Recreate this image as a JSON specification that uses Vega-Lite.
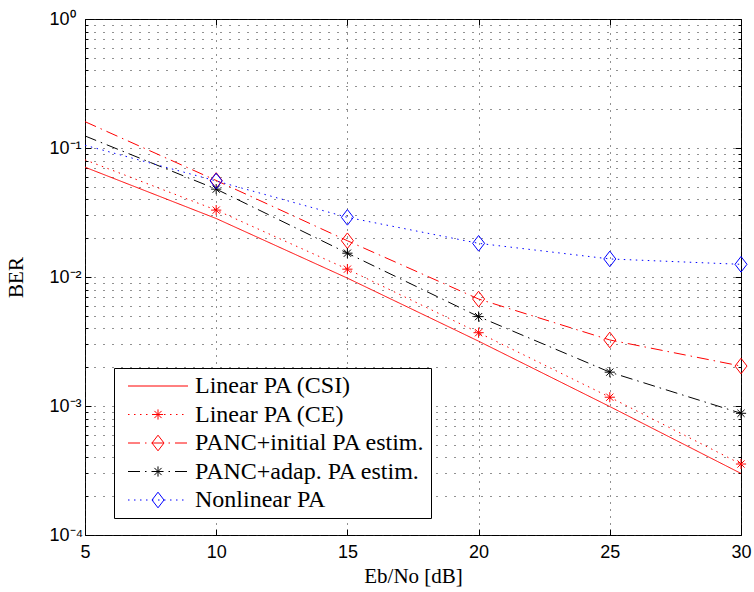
{
  "$schema": "https://vega.github.io/schema/vega-lite/v6.json",
  "width": 656,
  "height": 516,
  "autosize": {"type": "none"},
  "padding": {"left": 85, "top": 19, "right": 13, "bottom": 57},
  "background": "white",
  "config": {
    "view": {"stroke": "black", "strokeWidth": 1},
    "axis": {"domain": false, "tickColor": "black", "labelColor": "black", "titleColor": "black"}
  },
  "datasets": {
    "curves": [
      {"series": "Linear PA (CSI)", "ebno": 5, "ber": 0.071},
      {"series": "Linear PA (CSI)", "ebno": 10, "ber": 0.0284},
      {"series": "Linear PA (CSI)", "ebno": 15, "ber": 0.0098},
      {"series": "Linear PA (CSI)", "ebno": 20, "ber": 0.00318},
      {"series": "Linear PA (CSI)", "ebno": 25, "ber": 0.00099},
      {"series": "Linear PA (CSI)", "ebno": 30, "ber": 0.0003},
      {"series": "Linear PA (CE)", "ebno": 5, "ber": 0.081},
      {"series": "Linear PA (CE)", "ebno": 10, "ber": 0.033},
      {"series": "Linear PA (CE)", "ebno": 15, "ber": 0.0115},
      {"series": "Linear PA (CE)", "ebno": 20, "ber": 0.0037},
      {"series": "Linear PA (CE)", "ebno": 25, "ber": 0.00117},
      {"series": "Linear PA (CE)", "ebno": 30, "ber": 0.000355},
      {"series": "PANC+initial PA estim.", "ebno": 5, "ber": 0.16},
      {"series": "PANC+initial PA estim.", "ebno": 10, "ber": 0.056},
      {"series": "PANC+initial PA estim.", "ebno": 15, "ber": 0.0191},
      {"series": "PANC+initial PA estim.", "ebno": 20, "ber": 0.00675},
      {"series": "PANC+initial PA estim.", "ebno": 25, "ber": 0.00325},
      {"series": "PANC+initial PA estim.", "ebno": 30, "ber": 0.00204},
      {"series": "PANC+adap. PA estim.", "ebno": 5, "ber": 0.124},
      {"series": "PANC+adap. PA estim.", "ebno": 10, "ber": 0.048},
      {"series": "PANC+adap. PA estim.", "ebno": 15, "ber": 0.0153},
      {"series": "PANC+adap. PA estim.", "ebno": 20, "ber": 0.00493},
      {"series": "PANC+adap. PA estim.", "ebno": 25, "ber": 0.00183},
      {"series": "PANC+adap. PA estim.", "ebno": 30, "ber": 0.000878},
      {"series": "Nonlinear PA", "ebno": 5, "ber": 0.105},
      {"series": "Nonlinear PA", "ebno": 10, "ber": 0.0555},
      {"series": "Nonlinear PA", "ebno": 15, "ber": 0.029},
      {"series": "Nonlinear PA", "ebno": 20, "ber": 0.01824},
      {"series": "Nonlinear PA", "ebno": 25, "ber": 0.0138},
      {"series": "Nonlinear PA", "ebno": 30, "ber": 0.01254}
    ],
    "markers": [
      {"series": "Linear PA (CE)", "ebno": 10, "ber": 0.033},
      {"series": "Linear PA (CE)", "ebno": 15, "ber": 0.0115},
      {"series": "Linear PA (CE)", "ebno": 20, "ber": 0.0037},
      {"series": "Linear PA (CE)", "ebno": 25, "ber": 0.00117},
      {"series": "Linear PA (CE)", "ebno": 30, "ber": 0.000355},
      {"series": "PANC+initial PA estim.", "ebno": 10, "ber": 0.056},
      {"series": "PANC+initial PA estim.", "ebno": 15, "ber": 0.0191},
      {"series": "PANC+initial PA estim.", "ebno": 20, "ber": 0.00675},
      {"series": "PANC+initial PA estim.", "ebno": 25, "ber": 0.00325},
      {"series": "PANC+initial PA estim.", "ebno": 30, "ber": 0.00204},
      {"series": "PANC+adap. PA estim.", "ebno": 10, "ber": 0.048},
      {"series": "PANC+adap. PA estim.", "ebno": 15, "ber": 0.0153},
      {"series": "PANC+adap. PA estim.", "ebno": 20, "ber": 0.00493},
      {"series": "PANC+adap. PA estim.", "ebno": 25, "ber": 0.00183},
      {"series": "PANC+adap. PA estim.", "ebno": 30, "ber": 0.000878},
      {"series": "Nonlinear PA", "ebno": 10, "ber": 0.0555},
      {"series": "Nonlinear PA", "ebno": 15, "ber": 0.029},
      {"series": "Nonlinear PA", "ebno": 20, "ber": 0.01824},
      {"series": "Nonlinear PA", "ebno": 25, "ber": 0.0138},
      {"series": "Nonlinear PA", "ebno": 30, "ber": 0.01254}
    ]
  },
  "layer": [
    {
      "data": {"name": "curves"},
      "mark": {"type": "line", "strokeWidth": 1, "clip": true},
      "encoding": {
        "x": {
          "field": "ebno", "type": "quantitative",
          "scale": {"domain": [5, 30], "nice": false, "zero": false},
          "axis": {
            "orient": "bottom",
            "values": [5, 10, 15, 20, 25, 30],
            "grid": true, "gridDash": [1, 6], "gridColor": "#222", "gridWidth": 1,
            "ticks": true, "tickSize": -6,
            "labelFont": "Liberation Sans", "labelFontSize": 18, "labelFlush": false, "labelPadding": 14,
            "title": "Eb/No [dB]", "titleFont": "Liberation Serif", "titleFontSize": 21, "titleFontWeight": "normal", "titlePadding": 4
          }
        },
        "y": {
          "field": "ber", "type": "quantitative",
          "scale": {"type": "log", "domain": [0.0001, 1], "nice": false},
          "axis": {
            "orient": "left",
            "values": [0.0001, 0.0002, 0.0003, 0.0004, 0.0005, 0.0006, 0.0007, 0.0008, 0.0009, 0.001, 0.002, 0.003, 0.004, 0.005, 0.006, 0.007, 0.008, 0.009, 0.01, 0.02, 0.03, 0.04, 0.05, 0.06, 0.07, 0.08, 0.09, 0.1, 0.2, 0.3, 0.4, 0.5, 0.6, 0.7, 0.8, 0.9, 1],
            "labelExpr": "datum.value == 1 ? '10⁰' : datum.value == 0.1 ? '10⁻¹' : datum.value == 0.01 ? '10⁻²' : datum.value == 0.001 ? '10⁻³' : datum.value == 0.0001 ? '10⁻⁴' : ''",
            "grid": true, "gridDash": [1, 8], "gridColor": "#222", "gridWidth": 1,
            "ticks": true,
            "tickSize": {"condition": {"test": "datum.value == 1 || datum.value == 0.1 || datum.value == 0.01 || datum.value == 0.001 || datum.value == 0.0001", "value": -6}, "value": -3},
            "labelFont": "Liberation Sans", "labelFontSize": 18, "labelAlign": "left", "labelPadding": 42, "labelOverlap": false,
            "title": "BER", "titleFont": "Liberation Serif", "titleFontSize": 21, "titleFontWeight": "normal", "titlePadding": 20
          }
        },
        "color": {
          "field": "series", "type": "nominal",
          "scale": {
            "domain": ["Linear PA (CSI)", "Linear PA (CE)", "PANC+initial PA estim.", "PANC+adap. PA estim.", "Nonlinear PA"],
            "range": ["#ff0000", "#ff0000", "#ff0000", "#000000", "#0000ff"]
          },
          "legend": {
            "title": null, "orient": "none", "legendX": 29, "legendY": 349,
            "symbolType": "M-5,0H5", "symbolSize": 144, "symbolStrokeWidth": 1, "symbolOffset": 26,
            "labelOffset": 25, "labelFont": "Liberation Serif", "labelFontSize": 24, "labelColor": "black", "labelLimit": 400,
            "padding": 6, "rowPadding": 4.5, "strokeColor": "black", "fillColor": "white", "zindex": 1
          }
        },
        "strokeDash": {
          "field": "series", "type": "nominal",
          "scale": {
            "domain": ["Linear PA (CSI)", "Linear PA (CE)", "PANC+initial PA estim.", "PANC+adap. PA estim.", "Nonlinear PA"],
            "range": [[1, 0], [1.5, 4.5], [12, 5, 1.5, 5], [12, 5, 1.5, 5], [1.5, 4.5]]
          }
        }
      }
    },
    {
      "data": {"name": "markers"},
      "mark": {"type": "point", "filled": false, "strokeWidth": 1, "size": 144, "opacity": 1},
      "encoding": {
        "x": {
          "field": "ebno", "type": "quantitative",
          "scale": {"domain": [5, 30], "nice": false, "zero": false},
          "axis": {"orient": "top", "values": [5, 10, 15, 20, 25, 30], "labels": false, "grid": false, "ticks": true, "tickSize": -6, "title": null}
        },
        "y": {
          "field": "ber", "type": "quantitative",
          "scale": {"type": "log", "domain": [0.0001, 1], "nice": false},
          "axis": {
            "orient": "right",
            "values": [0.0001, 0.0002, 0.0003, 0.0004, 0.0005, 0.0006, 0.0007, 0.0008, 0.0009, 0.001, 0.002, 0.003, 0.004, 0.005, 0.006, 0.007, 0.008, 0.009, 0.01, 0.02, 0.03, 0.04, 0.05, 0.06, 0.07, 0.08, 0.09, 0.1, 0.2, 0.3, 0.4, 0.5, 0.6, 0.7, 0.8, 0.9, 1],
            "labels": false, "grid": false, "ticks": true,
            "tickSize": {"condition": {"test": "datum.value == 1 || datum.value == 0.1 || datum.value == 0.01 || datum.value == 0.001 || datum.value == 0.0001", "value": -6}, "value": -3},
            "title": null
          }
        },
        "color": {"field": "series", "type": "nominal", "legend": null},
        "shape": {
          "field": "series", "type": "nominal",
          "scale": {
            "domain": ["Linear PA (CE)", "PANC+initial PA estim.", "PANC+adap. PA estim.", "Nonlinear PA"],
            "range": [
              "M-0.85,0H0.85M0,-0.85V0.85M-0.6,-0.6L0.6,0.6M-0.6,0.6L0.6,-0.6",
              "M0,-1.3L1,0L0,1.3L-1,0Z",
              "M-0.85,0H0.85M0,-0.85V0.85M-0.6,-0.6L0.6,0.6M-0.6,0.6L0.6,-0.6",
              "M0,-1.3L1,0L0,1.3L-1,0Z"
            ]
          },
          "legend": {
            "title": null, "orient": "none", "legendX": 29, "legendY": 377.5,
            "symbolSize": 144, "symbolStrokeWidth": 1, "symbolOffset": 26, "symbolOpacity": 1,
            "symbolFillColor": "transparent",
            "symbolStrokeColor": {"expr": "datum.value === 'Nonlinear PA' ? '#0000ff' : datum.value === 'PANC+adap. PA estim.' ? '#000000' : '#ff0000'"},
            "labelFontSize": 24, "labelExpr": "''", "labelOffset": 25,
            "padding": 6, "rowPadding": 4.5, "zindex": 2
          }
        }
      }
    }
  ],
  "resolve": {"axis": {"x": "independent", "y": "independent"}}
}
